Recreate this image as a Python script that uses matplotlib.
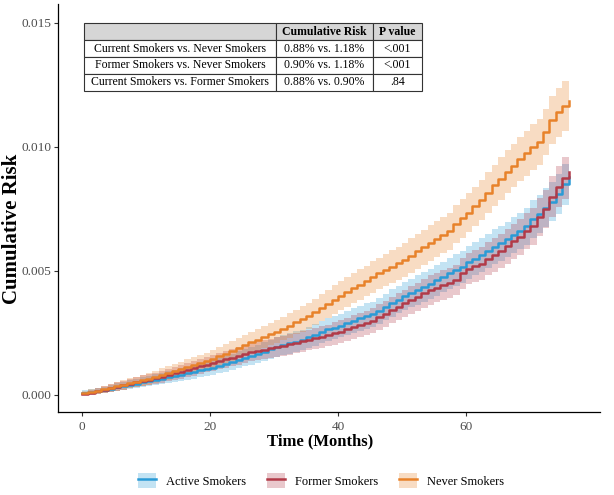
import numpy as np
import matplotlib
matplotlib.use('Agg')
import matplotlib.pyplot as plt
from matplotlib.patches import Patch
from matplotlib.lines import Line2D

plt.rcParams['font.family'] = ['Liberation Serif', 'DejaVu Serif']

# ─── DATA (cumulative risk in units of 1e-5) ─────────────────────────────────
MONTHS = np.arange(0, 77)

ACTIVE = [10, 13, 17, 21, 26, 31, 36, 41, 46, 51, 56, 61, 66, 71, 76, 81, 87, 93, 99, 105,
          110, 118, 126, 134, 142, 150, 157, 166, 175, 184, 193, 200, 208, 215, 222, 232,
          243, 254, 265, 272, 280, 290, 300, 310, 318, 325, 340, 355, 371, 385, 398, 411,
          423, 436, 449, 462, 476, 490, 503, 516, 535, 550, 565, 580, 598, 612, 628, 645,
          662, 680, 710, 730, 755, 780, 810, 850, 880]
ACTIVE_HW = [9, 10, 12, 13, 15, 16, 17, 18, 19, 20, 21, 22, 23, 24, 25, 26, 27, 27, 28, 29,
             30, 31, 32, 33, 34, 35, 36, 37, 38, 39, 40, 40, 41, 42, 42, 43, 44, 45, 46, 47,
             48, 49, 49, 50, 51, 51, 53, 54, 55, 56, 57, 58, 59, 60, 60, 61, 62, 63, 64, 65,
             66, 67, 68, 69, 70, 71, 71, 72, 73, 74, 76, 77, 78, 80, 81, 83, 85]

FORMER = [5, 10, 16, 22, 28, 34, 40, 46, 52, 57, 62, 67, 73, 80, 87, 94, 101, 108, 115, 122,
          130, 137, 144, 151, 158, 165, 173, 178, 183, 188, 193, 198, 204, 210, 216, 222,
          228, 234, 240, 248, 256, 265, 274, 282, 290, 300, 315, 328, 342, 356, 370, 383,
          396, 410, 423, 433, 443, 453, 463, 490, 510, 520, 530, 550, 565, 580, 600, 620,
          637, 660, 680, 718, 750, 800, 840, 875, 900]
FORMER_HW = [6, 9, 11, 13, 15, 17, 18, 19, 21, 22, 22, 23, 24, 25, 27, 28, 29, 30, 31, 31,
             32, 33, 34, 35, 36, 37, 37, 38, 39, 39, 40, 40, 41, 41, 42, 42, 43, 44, 44, 45,
             46, 46, 47, 48, 49, 49, 51, 52, 53, 54, 55, 56, 57, 58, 59, 59, 60, 61, 61, 63,
             64, 65, 66, 67, 68, 69, 70, 71, 72, 73, 74, 76, 78, 81, 83, 84, 85]

NEVER = [8, 13, 18, 23, 29, 35, 41, 47, 53, 59, 65, 73, 81, 89, 97, 105, 113, 121, 129, 137,
         145, 156, 167, 178, 189, 200, 212, 223, 234, 245, 256, 268, 280, 294, 307, 320,
         336, 352, 368, 385, 400, 415, 430, 445, 460, 476, 490, 504, 518, 531, 545, 562,
         579, 596, 613, 630, 645, 660, 690, 712, 735, 760, 785, 815, 845, 872, 900, 925,
         950, 975, 1000, 1020, 1060, 1110, 1140, 1165, 1187]
NEVER_HW = [8, 10, 12, 14, 16, 17, 19, 20, 21, 22, 23, 25, 26, 27, 29, 30, 31, 32, 33, 34,
            35, 36, 37, 39, 40, 41, 42, 43, 44, 45, 46, 47, 49, 50, 51, 52, 53, 54, 56, 57,
            58, 59, 60, 61, 62, 63, 64, 65, 66, 67, 68, 69, 70, 71, 72, 73, 74, 75, 76, 77,
            79, 80, 81, 83, 84, 86, 87, 88, 89, 91, 92, 93, 94, 97, 98, 99, 100]

GROUPS = ['Active Smokers', 'Former Smokers', 'Never Smokers']
COLORS = ['#2A9BD6', '#B23A48', '#E8822A']

TABLE_ROWS = ['Current Smokers vs. Never Smokers',
              'Former Smokers vs. Never Smokers',
              'Current Smokers vs. Former Smokers']
TABLE_RISK = ['0.88% vs. 1.18%', '0.90% vs. 1.18%', '0.88% vs. 0.90%']
TABLE_P = ['<.001', '<.001', '.84']
# ──────────────────────────────────────────────────────────────────────────────

fig = plt.figure(figsize=(6.14, 4.95), dpi=100)
ax = fig.add_axes([0.0945, 0.1677, 0.8825, 0.8243])

series = [(ACTIVE, ACTIVE_HW), (FORMER, FORMER_HW), (NEVER, NEVER_HW)]
for (est, hw), color in zip(series, COLORS):
    est = np.array(est) * 1e-5
    hw = np.array(hw) * 1e-5
    ax.fill_between(MONTHS, est - hw, est + hw, step='post',
                    color=color, alpha=0.28, lw=0)
    ax.step(MONTHS, est, where='post', color=color, lw=1.8)

ax.set_xlim(-3.75, 80.9)
ax.set_ylim(-0.000685, 0.015766)
ax.set_xticks([0, 20, 40, 60])
ax.set_yticks([0.0, 0.005, 0.010, 0.015])
ax.set_yticklabels(['0.000', '0.005', '0.010', '0.015'])
ax.tick_params(labelsize=9.5, colors='#4D4D4D', length=3, width=0.8)
ax.tick_params(axis='both', color='#333333')
ax.tick_params(axis='y', pad=1.8)
for s in ['top', 'right']:
    ax.spines[s].set_visible(False)
for s in ['left', 'bottom']:
    ax.spines[s].set_linewidth(0.9)
    ax.spines[s].set_color('black')

ax.set_xlabel('Time (Months)', fontsize=12, fontweight='bold')
ax.set_ylabel('Cumulative Risk', fontsize=15, fontweight='bold')
ax.xaxis.set_label_coords(0.483, -0.052)
ax.yaxis.set_label_coords(-0.066, 0.449)

# table with pairwise comparisons
cells = [[r, c, p] for r, c, p in zip(TABLE_ROWS, TABLE_RISK, TABLE_P)]
tab = ax.table(cellText=cells, colLabels=['', 'Cumulative Risk', 'P value'],
               cellLoc='center', bbox=[0.048, 0.787, 0.6236, 0.166],
               colWidths=[0.568, 0.287, 0.145])
tab.auto_set_font_size(False)
for (r, c), cell in tab.get_celld().items():
    cell.set_edgecolor('#333333')
    cell.set_linewidth(0.8)
    cell.get_text().set_fontsize(8.5)
    if r == 0:
        cell.set_facecolor('#D6D6D6')
        cell.get_text().set_fontweight('bold')

# legend at the bottom
handles = [(Patch(facecolor=c, alpha=0.28, lw=0), Line2D([], [], color=c, lw=1.8))
           for c in COLORS]
fig.legend(handles, GROUPS, loc='center', bbox_to_anchor=(0.523, 0.029),
           ncol=3, frameon=False, fontsize=9, handlelength=1.5, handleheight=1.5,
           columnspacing=1.6, handletextpad=0.8)

fig.savefig('out.png', dpi=100)
